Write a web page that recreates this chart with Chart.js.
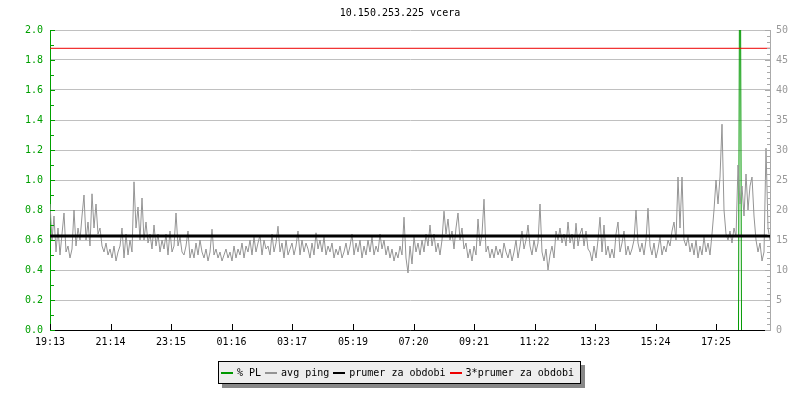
<!DOCTYPE html>
<html>
<head>
<meta charset="utf-8">
<title>10.150.253.225 vcera</title>
<script src="https://cdn.jsdelivr.net/npm/chart.js@4/dist/chart.umd.min.js"></script>
<style>
  html, body { margin: 0; padding: 0; background: #fff; }
  #wrap { position: relative; width: 800px; height: 400px; font-family: "DejaVu Sans Mono", monospace; }
  #title { position: absolute; top: 7px; left: 0; width: 800px; text-align: center; font-size: 10px; color: #000; }
  #legend {
    position: absolute; left: 218px; top: 361px; height: 21px; padding: 0 2px;
    background: #eeeeee; border: 1px solid #000; box-shadow: 4px 4px 0 #888;
    font-size: 10px; line-height: 21px; white-space: nowrap;
  }
  #legend span.item { margin-right: 4px; }
  #legend i { display: inline-block; width: 12px; height: 2px; vertical-align: middle; margin-right: 4px; }
</style>
</head>
<body>
<div id="wrap">
  <canvas id="chart" width="800" height="400"></canvas>
  <div id="title">10.150.253.225 vcera</div>
  <div id="legend"></div>
</div>
<script>
// x-axis tick labels (clock time, day starts at the first one)
const tickLabels = ["19:13", "21:14", "23:15", "01:16", "03:17", "05:19",
                    "07:20", "09:21", "11:22", "13:23", "15:24", "17:25"];

// avg ping in ms, one sample every 4 minutes from 19:13
const sampleStepMin = 4;
const pingMs = [
  21, 15, 19, 13, 17, 12.5, 16, 19.5, 13, 14, 12, 13.5, 20, 14, 17, 15, 19, 22.5, 15, 18,
  14, 22.7, 17, 21, 16, 17, 14, 13, 14.5, 12.5, 13.5, 12, 14, 11.5, 13, 14, 17, 12, 16, 12.5,
  15, 13, 24.7, 17, 20.5, 15, 22, 15, 18, 14.5, 16, 13.5, 17.5, 14, 16, 13, 15, 13.5, 16, 12.5,
  16.5, 13, 14, 19.5, 14, 15.5, 13, 12.5, 14, 16.5, 12, 13.5, 12, 14.5, 12.5, 15, 13, 12, 13.5, 11.5,
  13, 16.8, 12.5, 13.5, 12, 13, 11.5, 12.5, 13.5, 12, 13, 11.5, 14, 12, 13.5, 12.5, 14.5, 12, 14, 13,
  15, 12.5, 15.5, 13, 14.5, 15.8, 12.5, 15, 13.5, 14, 12.5, 16, 13, 14.5, 17.3, 13, 14.5, 12, 15, 12.5,
  13.5, 14.5, 12.5, 14, 16.5, 12.5, 15, 13, 14.5, 13.5, 12, 14.5, 12.5, 16.2, 13.5, 15, 13, 15.5, 12.5, 14,
  13, 14.5, 12, 13.5, 12.5, 14, 12, 13, 14.5, 12.5, 14, 16, 12.5, 14.5, 13, 15, 12, 14, 12.5, 15,
  13, 15.5, 12.5, 14, 13, 16, 13.5, 15, 12.5, 14, 12, 13.5, 11.5, 13, 12, 14, 12.5, 18.8, 12, 9.5,
  14, 11, 15.5, 13, 14.5, 12.5, 15, 13, 16, 14, 17.5, 14, 16, 13, 14.5, 12.5, 15, 19.8, 16, 18.5,
  15, 16.5, 13.5, 17, 19.5, 15, 17, 13.5, 14.5, 12, 13.5, 11.5, 14, 12.5, 18.5, 14, 16, 21.8, 13, 14,
  12, 13.5, 12, 14, 12.5, 13.5, 12, 14.5, 13, 12, 13.5, 11.5, 13, 15, 12, 14, 16.5, 13.5, 15, 17.5,
  14, 12.5, 15, 13, 14.5, 21, 13, 11.5, 13.5, 10, 12.5, 14, 12, 16.5, 15, 17, 14.5, 16, 14, 18,
  14.5, 16, 13.5, 17.8, 14, 16, 17, 14, 16.5, 13.5, 13, 11.5, 14, 12, 15, 18.8, 13, 17.5, 12.5, 14,
  12, 13.5, 12, 16, 18, 13, 14.5, 16.5, 12.5, 14, 12.5, 13.5, 15, 20, 14.5, 13, 14.5, 12.5, 15, 20.3,
  14, 12.5, 14.5, 12, 13.5, 15.5, 12.5, 14, 13, 15, 14, 16.5, 18, 15, 25.5, 17, 25.5, 15, 14, 15.5,
  13, 14.5, 12.5, 15, 12, 14, 12.5, 15.5, 13, 14.5, 12.5, 16, 20, 25, 21, 25.5, 34.3, 20, 16, 15,
  16.5, 14.5, 17, 15.5, 27.5, 21, 24, 19, 26, 20, 24, 25.5, 19, 15, 13, 14.5, 11.5, 13, 30.3, 17, 15
];

// period average of the ping (ms) and the packet-loss event
const meanMs = 15.65;
const plMinutes = [1377, 1380, 1383];
const plValues = [0, 3.5, 0];

const START_MIN = 19 * 60 + 13;
function minutesFromStart(label) {
  const [h, m] = label.split(":").map(Number);
  return (h * 60 + m - START_MIN + 1440) % 1440;
}
const tickMinutes = tickLabels.map(minutesFromStart);

const GREEN = "#00a000";
const GRAY = "#949494";

// tick marks drawn inwards, like the original rrd-style graph
const insideTicks = {
  id: "insideTicks",
  afterDatasetsDraw(chart) {
    const { ctx, chartArea: a, scales } = chart;
    ctx.save();
    ctx.lineWidth = 1;
    ctx.strokeStyle = "#000";
    ctx.beginPath();
    tickMinutes.forEach((m) => {
      const x = Math.round(scales.x.getPixelForValue(m)) + 0.5;
      ctx.moveTo(x, a.bottom); ctx.lineTo(x, a.bottom - 6);
    });
    ctx.stroke();
    ctx.strokeStyle = GREEN;
    ctx.beginPath();
    for (let v = 0; v <= 20; v++) {
      const y = Math.round(scales.y.getPixelForValue(v / 10)) + 0.5;
      ctx.moveTo(a.left, y); ctx.lineTo(a.left + (v % 2 ? 4 : 5), y);
    }
    ctx.stroke();
    ctx.strokeStyle = "#aaa";
    ctx.beginPath();
    for (let v = 0; v <= 50; v++) {
      const y = Math.round(scales.y1.getPixelForValue(v)) + 0.5;
      ctx.moveTo(a.right, y); ctx.lineTo(a.right - (v % 5 ? 3 : 5), y);
    }
    ctx.stroke();
    ctx.restore();
  },
};

const datasets = [
  {
    label: "% PL", yAxisID: "y", order: 2,
    data: plMinutes.map((m, i) => ({ x: m, y: plValues[i] })),
    borderColor: "#009900", borderWidth: 1,
  },
  {
    label: "avg ping", yAxisID: "y1", order: 1,
    data: pingMs.map((v, i) => ({ x: i * sampleStepMin, y: v })),
    borderColor: GRAY, borderWidth: 1,
  },
  {
    label: "prumer za obdobi", yAxisID: "y1", order: 0,
    data: [{ x: 0, y: meanMs }, { x: 1440, y: meanMs }],
    borderColor: "#000", borderWidth: 3,
  },
  {
    label: "3*prumer za obdobi", yAxisID: "y1", order: 0,
    data: [{ x: 0, y: 3 * meanMs }, { x: 1440, y: 3 * meanMs }],
    borderColor: "#ee0000", borderWidth: 1,
  },
];

const font = { family: "'DejaVu Sans Mono', monospace", size: 10 };

new Chart(document.getElementById("chart"), {
  type: "line",
  data: { datasets },
  options: {
    responsive: false,
    animation: false,
    elements: { point: { radius: 0 }, line: { tension: 0 } },
    layout: { padding: { top: 30, left: 0, right: 0, bottom: 0 } },
    plugins: { legend: { display: false }, tooltip: { enabled: false } },
    scales: {
      x: {
        type: "linear", min: 0, max: 1440,
        afterFit: (s) => { s.height = 70; },
        afterBuildTicks: (s) => { s.ticks = tickMinutes.map((v) => ({ value: v })); },
        ticks: {
          autoSkip: false, maxRotation: 0, color: "#000", font, padding: 6,
          callback: (v) => tickLabels[tickMinutes.indexOf(v)],
        },
        grid: { display: false, drawTicks: false },
        border: { color: "#000", width: 1 },
      },
      y: {
        position: "left", min: 0, max: 2,
        afterFit: (s) => { s.width = 50; },
        ticks: { stepSize: 0.2, color: GREEN, font, padding: 7, callback: (v) => v.toFixed(1) },
        grid: { color: "#c0c0c0", drawTicks: false },
        border: { color: GREEN, width: 1 },
      },
      y1: {
        position: "right", min: 0, max: 50,
        afterFit: (s) => { s.width = 30; },
        ticks: { stepSize: 5, color: "#999", font, padding: 6 },
        grid: { display: false, drawTicks: false },
        border: { color: "#aaa", width: 1 },
      },
    },
  },
  plugins: [insideTicks],
});

// legend box under the plot, same order as the original
document.getElementById("legend").innerHTML = datasets
  .map((d) => `<span class="item"><i style="background:${d.borderColor}"></i>${d.label}</span>`)
  .join("");
</script>
</body>
</html>
